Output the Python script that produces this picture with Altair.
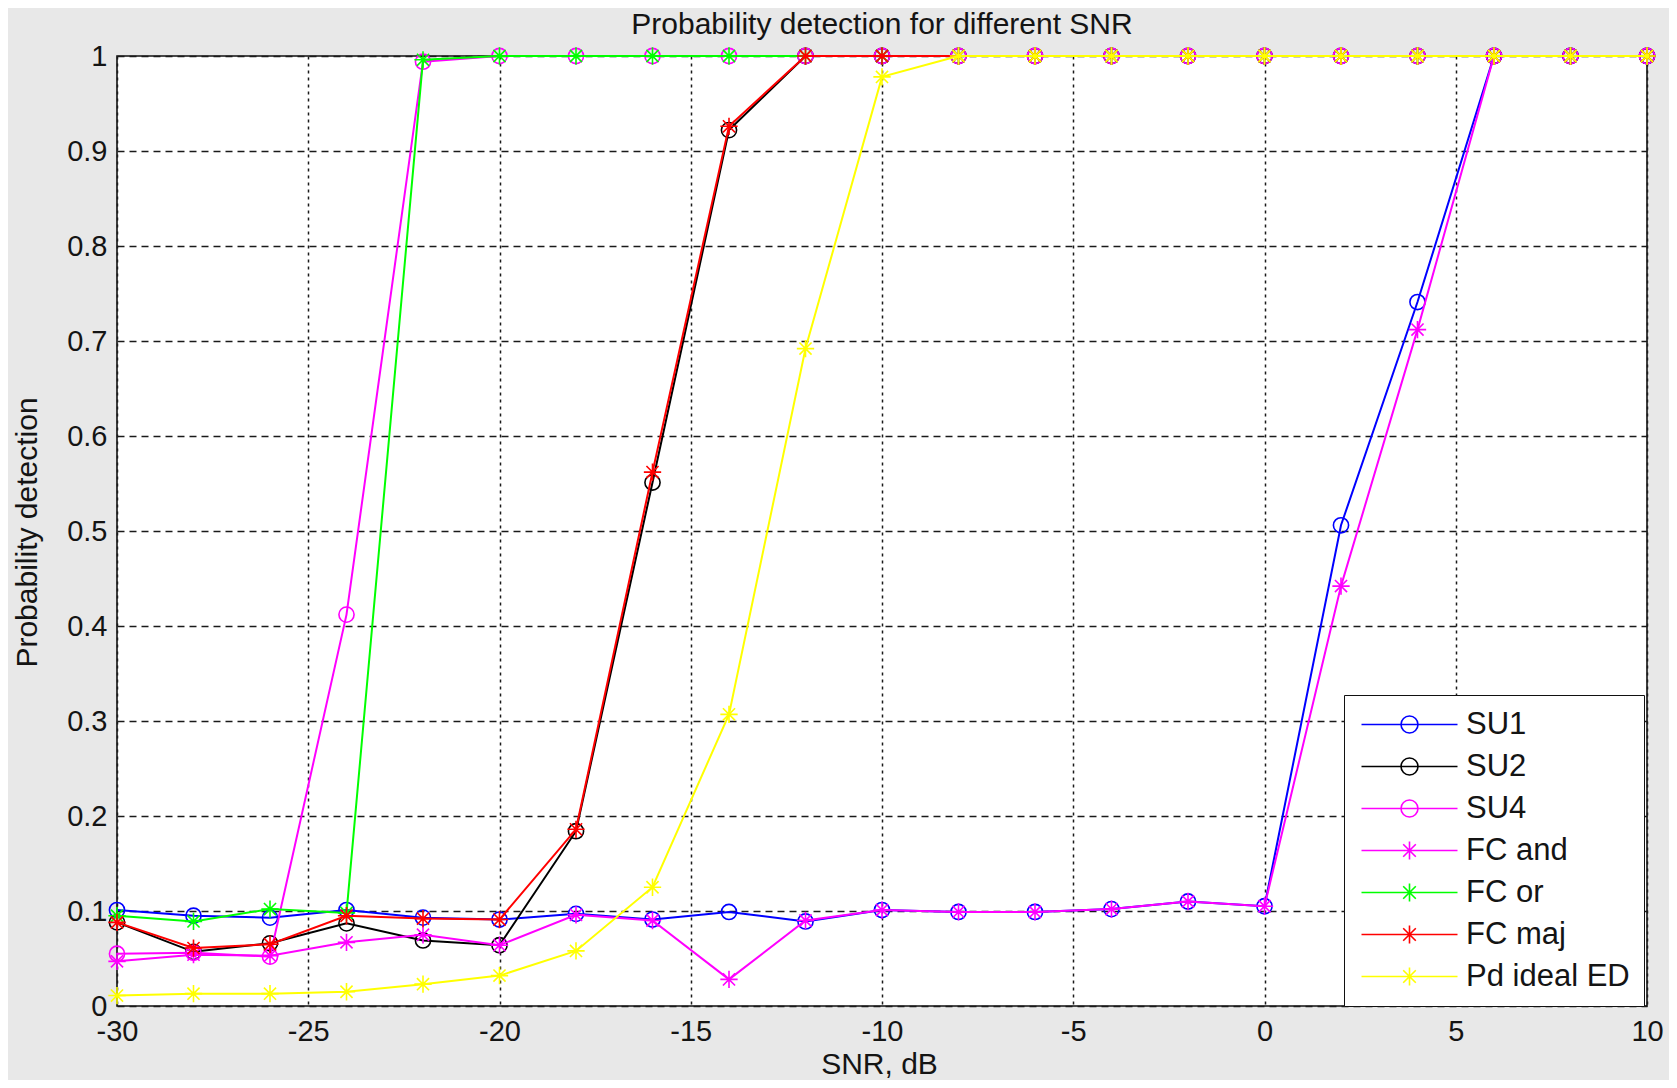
import altair as alt
import pandas as pd

# ---------------- data ----------------
snr = [-30, -28, -26, -24, -22, -20, -18, -16, -14, -12, -10,
       -8, -6, -4, -2, 0, 2, 4, 6, 8, 10]

su1 = [0.101, 0.095, 0.093, 0.101, 0.093, 0.091, 0.097, 0.091, 0.099, 0.089, 0.101,
       0.099, 0.099, 0.102, 0.110, 0.105, 0.506, 0.741, 1.0, 1.0, 1.0]
su2 = [0.088, 0.057, 0.066, 0.087, 0.069, 0.064, 0.184, 0.551, 0.922, 1.0, 1.0,
       1.0, 1.0, 1.0, 1.0, 1.0, 1.0, 1.0, 1.0, 1.0, 1.0]
su4 = [0.055, 0.056, 0.052, 0.412, 0.994, 1.0, 1.0, 1.0, 1.0, 1.0, 1.0,
       1.0, 1.0, 1.0, 1.0, 1.0, 1.0, 1.0, 1.0, 1.0, 1.0]
fc_and = [0.047, 0.054, 0.053, 0.067, 0.075, 0.064, 0.096, 0.090, 0.028, 0.090, 0.101,
          0.099, 0.099, 0.102, 0.110, 0.105, 0.442, 0.712, 1.0, 1.0, 1.0]
fc_or = [0.095, 0.089, 0.102, 0.098, 0.996, 1.0, 1.0, 1.0, 1.0, 1.0, 1.0,
         1.0, 1.0, 1.0, 1.0, 1.0, 1.0, 1.0, 1.0, 1.0, 1.0]
fc_maj = [0.088, 0.061, 0.065, 0.095, 0.092, 0.091, 0.186, 0.562, 0.926, 1.0, 1.0,
          1.0, 1.0, 1.0, 1.0, 1.0, 1.0, 1.0, 1.0, 1.0, 1.0]
pd_ideal = [0.011, 0.013, 0.013, 0.015, 0.023, 0.032, 0.058, 0.125, 0.307, 0.692, 0.978,
            1.0, 1.0, 1.0, 1.0, 1.0, 1.0, 1.0, 1.0, 1.0, 1.0]

series_names = ["SU1", "SU2", "SU4", "FC and", "FC or", "FC maj", "Pd ideal ED"]
series_values = [su1, su2, su4, fc_and, fc_or, fc_maj, pd_ideal]
series_colors = ["#0000ff", "#000000", "#ff00ff", "#ff00ff", "#00ff00", "#ff0000", "#ffff00"]
series_markers = ["o", "o", "o", "*", "*", "*", "*"]

x_ticks = [-30, -25, -20, -15, -10, -5, 0, 5, 10]
y_ticks = [0, 0.1, 0.2, 0.3, 0.4, 0.5, 0.6, 0.7, 0.8, 0.9, 1]

title_text = "Probability detection for different SNR"
x_title = "SNR, dB"
y_title = "Probability detection"

# ---------------- styling ----------------
FONT = "Liberation Sans"
TXT = "#141414"

ASTERISK = "M0,-1L0,1M-1,0L1,0M-0.7,-0.7L0.7,0.7M-0.7,0.7L0.7,-0.7"
LEG_CIRCLE = ("M-2.571,0M-1.714,0L12,0"
              "M6.357,0A1.214,1.214 0 1,1 3.929,0A1.214,1.214 0 1,1 6.357,0")
LEG_STAR = ("M-2.571,0M-1.714,0L12,0"
            "M5.143,-1.286L5.143,1.286M4.243,-0.9L6.043,0.9M4.243,0.9L6.043,-0.9")
legend_paths = [LEG_CIRCLE if m == "o" else LEG_STAR for m in series_markers]

rows = []
for name, vals in zip(series_names, series_values):
    for s, v in zip(snr, vals):
        rows.append({"series": name, "snr": s, "pd": v})
df = pd.DataFrame(rows)

x_enc = alt.X(
    "snr:Q",
    scale=alt.Scale(domain=[-30, 10], nice=False, zero=False),
    axis=alt.Axis(
        values=x_ticks, labelExpr="datum.value + ''", title=x_title,
        grid=True, gridDash=[3, 4], ticks=False, domain=False,
        labelPadding=11, labelFlush=False, labelOverlap=False, labelAngle=0,
        titleX=762, titleY=67, titleAlign="center", titleBaseline="alphabetic",
    ),
)
y_enc = alt.Y(
    "pd:Q",
    scale=alt.Scale(domain=[0, 1], nice=False, zero=False),
    axis=alt.Axis(
        values=y_ticks, labelExpr="datum.value + ''", title=y_title,
        grid=True, gridDash=[7, 5], ticks=False, domain=False,
        labelPadding=10, labelFlush=False, labelOverlap=False,
        titleX=-81, titleY=476, titleAngle=270, titleAlign="center",
        titleBaseline="alphabetic",
    ),
)
color_scale = alt.Scale(domain=series_names, range=series_colors)
color_plain = alt.Color("series:N", scale=color_scale, legend=None)

base = alt.Chart(df)

# legend-only layer (no visible marks): first, so its legend settings win the merge
legend_layer = base.transform_filter("false").mark_point(
    filled=False, strokeWidth=1.6, size=196, opacity=1
).encode(
    x=x_enc,
    y=y_enc,
    color=alt.Color("series:N", scale=color_scale, legend=alt.Legend(title=None)),
    shape=alt.Shape("series:N", scale=alt.Scale(domain=series_names, range=legend_paths),
                    legend=alt.Legend(title=None)),
)
layers = [legend_layer]
for name, marker in zip(series_names, series_markers):
    sub = base.transform_filter(alt.datum.series == name)
    layers.append(
        sub.mark_line(strokeWidth=2, opacity=1).encode(x=x_enc, y=y_enc, color=color_plain)
    )
    if marker == "o":
        pt = sub.mark_point(shape="circle", size=230, filled=False, strokeWidth=1.6, opacity=1)
    else:
        pt = sub.mark_point(shape=ASTERISK, size=300, filled=False, strokeWidth=1.6, opacity=1)
    layers.append(pt.encode(x=x_enc, y=y_enc, color=color_plain))

chart = alt.layer(*layers).properties(
    width=1530,
    height=950,
    padding={"left": 109, "top": 48, "right": 22, "bottom": 74},
    autosize=alt.AutoSizeParams(type="none"),
    background="#e8e8e8",
    title=alt.TitleParams(
        text=title_text, font=FONT, fontSize=30, fontWeight="normal", color=TXT,
        anchor="middle", baseline="alphabetic", offset=8, dy=30,
    ),
).configure_view(
    fill="white", stroke="#111111", strokeWidth=1.6
).configure_axis(
    labelFont=FONT, labelFontSize=29, labelColor=TXT,
    titleFont=FONT, titleFontSize=30, titleFontWeight="normal", titleColor=TXT,
    gridColor="#1a1a1a", gridWidth=1.5, gridOpacity=1,
).configure_legend(
    orient="none", legendX=1227, legendY=639, direction="vertical",
    padding=14, strokeColor="#111111", fillColor="white", cornerRadius=0,
    labelFont=FONT, labelFontSize=31, labelColor=TXT, labelLimit=400,
    labelOffset=77, rowPadding=10, symbolSize=196, symbolStrokeWidth=1.6,
)

chart.save("out.html", embed_options={"renderer": "svg", "actions": False})
